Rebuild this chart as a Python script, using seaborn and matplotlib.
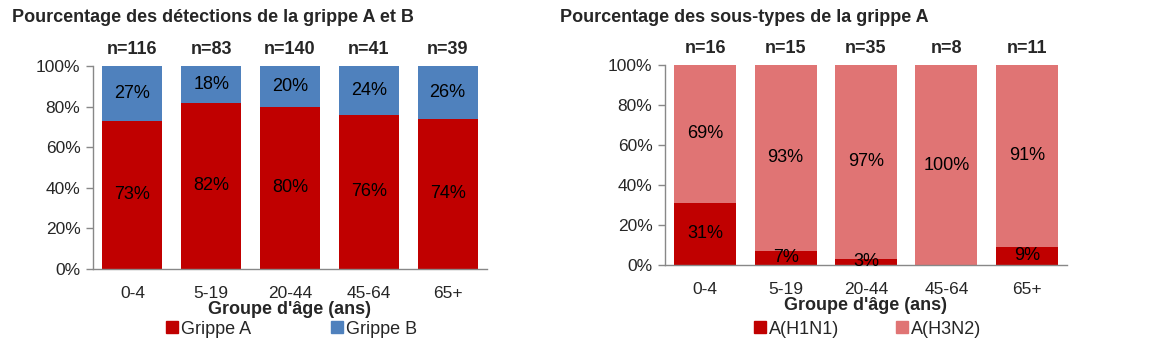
import matplotlib
matplotlib.use("Agg")
import matplotlib.pyplot as plt
import seaborn as sns
import pandas as pd
import numpy as np
from matplotlib.patches import Patch

sns.set_theme(style="white")
plt.rcParams['font.family'] = ['Liberation Sans', 'DejaVu Sans']

ages = ["0-4", "5-19", "20-44", "45-64", "65+"]
grippe_a = [73, 82, 80, 76, 74]
grippe_b = [27, 18, 20, 24, 26]
n_left = [116, 83, 140, 41, 39]

h1n1 = [31, 7, 3, 0, 9]
h3n2 = [69, 93, 97, 100, 91]
n_right = [16, 15, 35, 8, 11]

C_RED = "#C00000"
C_BLUE = "#4F81BD"
C_PINK = "#E07474"
GRAY = "#888888"

W, H = 1165, 345
fig = plt.figure(figsize=(W / 100, H / 100), dpi=100)
FS = 13


def px_axes(l, r, t, b):
    return fig.add_axes([l / W, 1 - b / H, (r - l) / W, (b - t) / H])


def panel(ax, bottom_vals, top_vals, ns, c_bot, c_top, title, labels, title_x, leg_x, width):
    df = pd.DataFrame({"age": ages, "bot": bottom_vals, "top": top_vals})
    df["total"] = df["bot"] + df["top"]
    sns.barplot(data=df, x="age", y="total", color=c_top, width=width,
                saturation=1, ax=ax, edgecolor="none")
    sns.barplot(data=df, x="age", y="bot", color=c_bot, width=width,
                saturation=1, ax=ax, edgecolor="none")
    ax.set_ylim(0, 100)
    ax.set_xlim(-0.5, 4.5)
    ax.set_yticks(range(0, 101, 20))
    ax.set_yticklabels([f"{v}%" for v in range(0, 101, 20)], fontsize=12.5)
    ax.set_xticks(range(5))
    ax.set_xticklabels(ages, fontsize=12.5)
    ax.set_xticks(np.arange(-0.5, 5, 1), minor=True)
    ax.tick_params(axis="x", which="major", length=0, pad=12)
    ax.tick_params(axis="x", which="minor", length=5, color=GRAY, width=1)
    ax.tick_params(axis="y", length=5, color=GRAY, width=1, pad=4, left=True)
    for s in ["top", "right"]:
        ax.spines[s].set_visible(False)
    for s in ["left", "bottom"]:
        ax.spines[s].set_color(GRAY)
        ax.spines[s].set_linewidth(1)
    ax.set_ylabel("")
    ax.set_xlabel("Groupe d'âge (ans)", fontsize=FS, fontweight="bold", labelpad=0)
    for i in range(5):
        b = bottom_vals[i]
        t = top_vals[i]
        if b > 0:
            ax.text(i, b / 2, f"{b}%", ha="center", va="center", fontsize=FS, color="black")
        ax.text(i, b + t / 2, f"{t}%", ha="center", va="center", fontsize=FS, color="black")
        ax.text(i, 104, f"n={ns[i]}", ha="center", va="bottom", fontsize=FS,
                fontweight="bold", clip_on=False)
    fig.text(title_x / W, 1 - 17 / H, title, fontsize=FS, fontweight="bold",
             ha="left", va="center")
    handles = [Patch(color=c_bot, label=labels[0]), Patch(color=c_top, label=labels[1])]
    for hnd, x in zip(handles, leg_x):
        fig.legend(handles=[hnd], loc="center left", bbox_to_anchor=(x / W, 1 - 329 / H),
                   frameon=False, fontsize=FS, handlelength=0.65, handleheight=0.65,
                   handletextpad=0.2, borderpad=0, borderaxespad=0)


ax1 = px_axes(93, 487, 66, 269)
panel(ax1, grippe_a, grippe_b, n_left, C_RED, C_BLUE,
      "Pourcentage des détections de la grippe A et B", ("Grippe A", "Grippe B"),
      12, (166, 331), 0.76)

ax2 = px_axes(665, 1067, 65, 265)
panel(ax2, h1n1, h3n2, n_right, C_RED, C_PINK,
      "Pourcentage des sous-types de la grippe A", ("A(H1N1)", "A(H3N2)"),
      560, (754, 896), 0.77)

fig.savefig("out.png", dpi=100)
